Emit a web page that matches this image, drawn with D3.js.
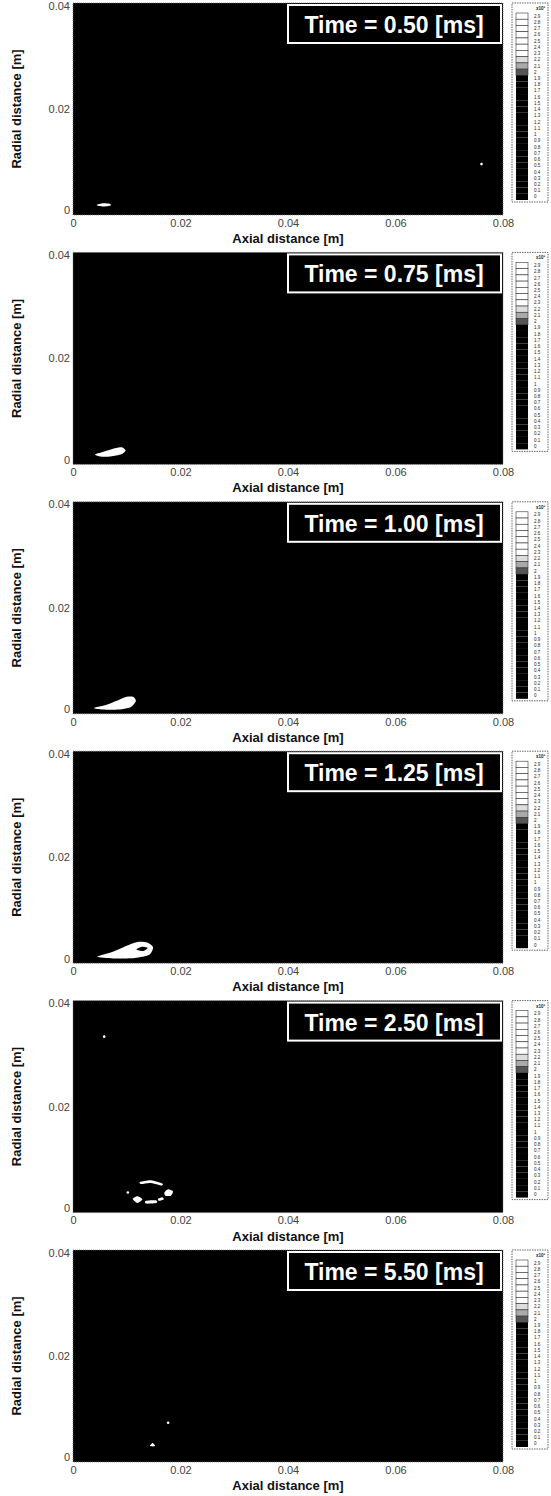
<!DOCTYPE html>
<html>
<head>
<meta charset="utf-8">
<script src="https://cdn.jsdelivr.net/npm/d3@7"></script>
<style>
  body { margin: 0; background: #fff; }
  text { font-family: "Liberation Sans", Arial, sans-serif; }
</style>
</head>
<body>
<svg id="fig" width="551" height="1496"></svg>
<script>
// one entry per panel
let panelTimes = ["0.50", "0.75", "1.00", "1.25", "2.50", "5.50"];

let xTicks = [0, 0.02, 0.04, 0.06, 0.08];
let yTicks = [0, 0.02, 0.04];

// flame kernel outlines [axial, radial] in metres, one list per panel
let kernels = [
  [[[0.0044, 0.0019], [0.0056, 0.0022], [0.0068, 0.0021], [0.0070, 0.0018], [0.0056, 0.0016]]],
  [[[0.0041, 0.0019], [0.0060, 0.0025], [0.0080, 0.0031], [0.0092, 0.0032], [0.0098, 0.0026],
    [0.0090, 0.0019], [0.0070, 0.0015], [0.0050, 0.0015]]],
  [[[0.0039, 0.0011], [0.0060, 0.0016], [0.0085, 0.0026], [0.0100, 0.0032], [0.0112, 0.0032],
    [0.0117, 0.0024], [0.0108, 0.0013], [0.0085, 0.0008], [0.0055, 0.0008]]],
  [[[0.0045, 0.0012], [0.0070, 0.0020], [0.0100, 0.0033], [0.0120, 0.0040], [0.0138, 0.0039],
    [0.0149, 0.0030], [0.0142, 0.0016], [0.0115, 0.0010], [0.0075, 0.0009]]],
  [[[0.0125, 0.0058], [0.0145, 0.0061], [0.0166, 0.0055], [0.0165, 0.0051], [0.0145, 0.0056], [0.0126, 0.0054]],
   [[0.0170, 0.0038], [0.0177, 0.0044], [0.0186, 0.0040], [0.0182, 0.0032], [0.0172, 0.0032]],
   [[0.0111, 0.0026], [0.0120, 0.0031], [0.0129, 0.0025], [0.0120, 0.0018]],
   [[0.0135, 0.0022], [0.0155, 0.0023], [0.0155, 0.0018], [0.0136, 0.0017]],
   [[0.0158, 0.0026], [0.0166, 0.0029], [0.0169, 0.0025], [0.0160, 0.0022]]],
  [[[0.0143, 0.0030], [0.0148, 0.0036], [0.0153, 0.0030]]]
];

// unburnt pockets inside the kernels
let holes = [
  [], [], [],
  [[[0.0118, 0.0026], [0.0128, 0.0031], [0.0139, 0.0029], [0.0131, 0.0023]]],
  [], []
];

// isolated hot spots
let spots = [
  [[0.0760, 0.0096]],
  [], [], [],
  [[0.0102, 0.0038], [0.0058, 0.0332]],
  [[0.0177, 0.0074]]
];

// colour bar levels, top to bottom
let cbLabels = ["2.9", "2.8", "2.7", "2.6", "2.5", "2.4", "2.3", "2.2", "2.1", "2", "1.9", "1.8",
  "1.7", "1.6", "1.5", "1.4", "1.3", "1.2", "1.1", "1", "0.9", "0.8", "0.7", "0.6", "0.5", "0.4",
  "0.3", "0.2", "0.1", "0"];
let cbShade = ["#fff", "#fff", "#fff", "#fff", "#fff", "#fff", "#fff", "#ddd", "#aaa", "#555",
  "#000", "#000", "#000", "#000", "#000", "#000", "#000", "#000", "#000", "#000", "#000", "#000",
  "#000", "#000", "#000", "#000", "#000", "#000", "#000", "#000"];

let svg = d3.select("#fig");
let margin = { left: 73, top: 3 };
let plotW = 430, plotH = 212, panelStep = 249.4;

let xScale = d3.scaleLinear().domain([0, 0.08]).range([0, plotW]);
let yScale = d3.scaleLinear().domain([0, 0.04]).range([plotH, 0]);
let cbScale = d3.scaleBand().domain(cbLabels).range([10, 197]);

let shape = d3.line()
  .x(d => xScale(d[0]))
  .y(d => yScale(d[1]))
  .curve(d3.curveCardinalClosed.tension(0.3));

panelTimes.forEach((t, i) => {
  let g = svg.append("g")
    .attr("transform", `translate(${margin.left},${margin.top + i * panelStep})`);

  g.append("rect")
    .attr("width", plotW).attr("height", plotH)
    .attr("fill", "#000")
    .attr("stroke", "#777").attr("stroke-width", 0.8).attr("stroke-dasharray", "1,1");

  g.selectAll(".kernel").data(kernels[i]).enter()
    .append("path").attr("class", "kernel")
    .attr("d", shape).attr("fill", "#fff");

  g.selectAll(".hole").data(holes[i]).enter()
    .append("path").attr("class", "hole")
    .attr("d", shape).attr("fill", "#000");

  g.selectAll(".spot").data(spots[i]).enter()
    .append("circle").attr("class", "spot")
    .attr("cx", d => xScale(d[0])).attr("cy", d => yScale(d[1]))
    .attr("r", 1.3).attr("fill", "#fff");

  // axes
  let xAxis = g.append("g")
    .attr("transform", `translate(0,${plotH})`)
    .call(d3.axisBottom(xScale).tickValues(xTicks).tickSize(0).tickPadding(4)
      .tickFormat(d => d === 0 ? "0" : d3.format(".2f")(d)));
  let yAxis = g.append("g")
    .call(d3.axisLeft(yScale).tickValues(yTicks).tickSize(0).tickPadding(3)
      .tickFormat(d => d === 0 ? "0" : d3.format(".2f")(d)));
  [xAxis, yAxis].forEach(a => {
    a.select(".domain").remove();
    a.selectAll("text")
      .style("font-size", "11px")
      .style("font-family", "'Liberation Sans', Arial, sans-serif")
      .attr("fill", "#444");
  });
  yAxis.selectAll("text").filter(d => d === 0).attr("dy", "-0.1em");
  yAxis.selectAll("text").filter(d => d === 0.04).attr("dy", "0.55em");

  g.append("text")
    .attr("x", plotW / 2).attr("y", plotH + 28)
    .attr("text-anchor", "middle")
    .style("font-size", "13px").style("font-weight", "bold")
    .attr("fill", "#111")
    .text("Axial distance [m]");

  g.append("text")
    .attr("transform", `translate(-52,${plotH / 2}) rotate(-90)`)
    .attr("text-anchor", "middle")
    .style("font-size", "13px").style("font-weight", "bold")
    .attr("fill", "#111")
    .text("Radial distance [m]");

  // time label
  let tb = g.append("g").attr("transform", `translate(${plotW - 215},2)`);
  tb.append("rect")
    .attr("width", 213).attr("height", 38)
    .attr("fill", "#000").attr("stroke", "#fff").attr("stroke-width", 2);
  tb.append("text")
    .attr("x", 106).attr("y", 28)
    .attr("text-anchor", "middle")
    .style("font-size", "23px").style("font-weight", "bold")
    .attr("fill", "#fff")
    .text(`Time = ${t} [ms]`);

  // colour bar
  let cb = g.append("g").attr("transform", `translate(${plotW + 9},0)`);
  cb.append("rect")
    .attr("width", 36).attr("height", 199)
    .attr("fill", "#fff")
    .attr("stroke", "#666").attr("stroke-width", 1).attr("stroke-dasharray", "1.5,1");
  cb.selectAll(".cell").data(cbLabels).enter()
    .append("rect").attr("class", "cell")
    .attr("x", 4).attr("y", d => cbScale(d))
    .attr("width", 12).attr("height", cbScale.bandwidth())
    .attr("fill", (d, k) => cbShade[k])
    .attr("stroke", (d, k) => cbShade[k] === "#000" ? "none" : "#333")
    .attr("stroke-width", 0.6);
  cb.selectAll(".lab").data(cbLabels).enter()
    .append("text").attr("class", "lab")
    .attr("x", 22).attr("y", d => cbScale(d) + cbScale.bandwidth() / 2)
    .attr("dy", "0.35em")
    .style("font-size", "4.5px")
    .attr("fill", "#222")
    .text(d => d);
  cb.append("text")
    .attr("x", 24).attr("y", 7)
    .style("font-size", "4.5px").style("font-weight", "bold")
    .attr("fill", "#222")
    .text("x10³");
});
</script>
</body>
</html>
